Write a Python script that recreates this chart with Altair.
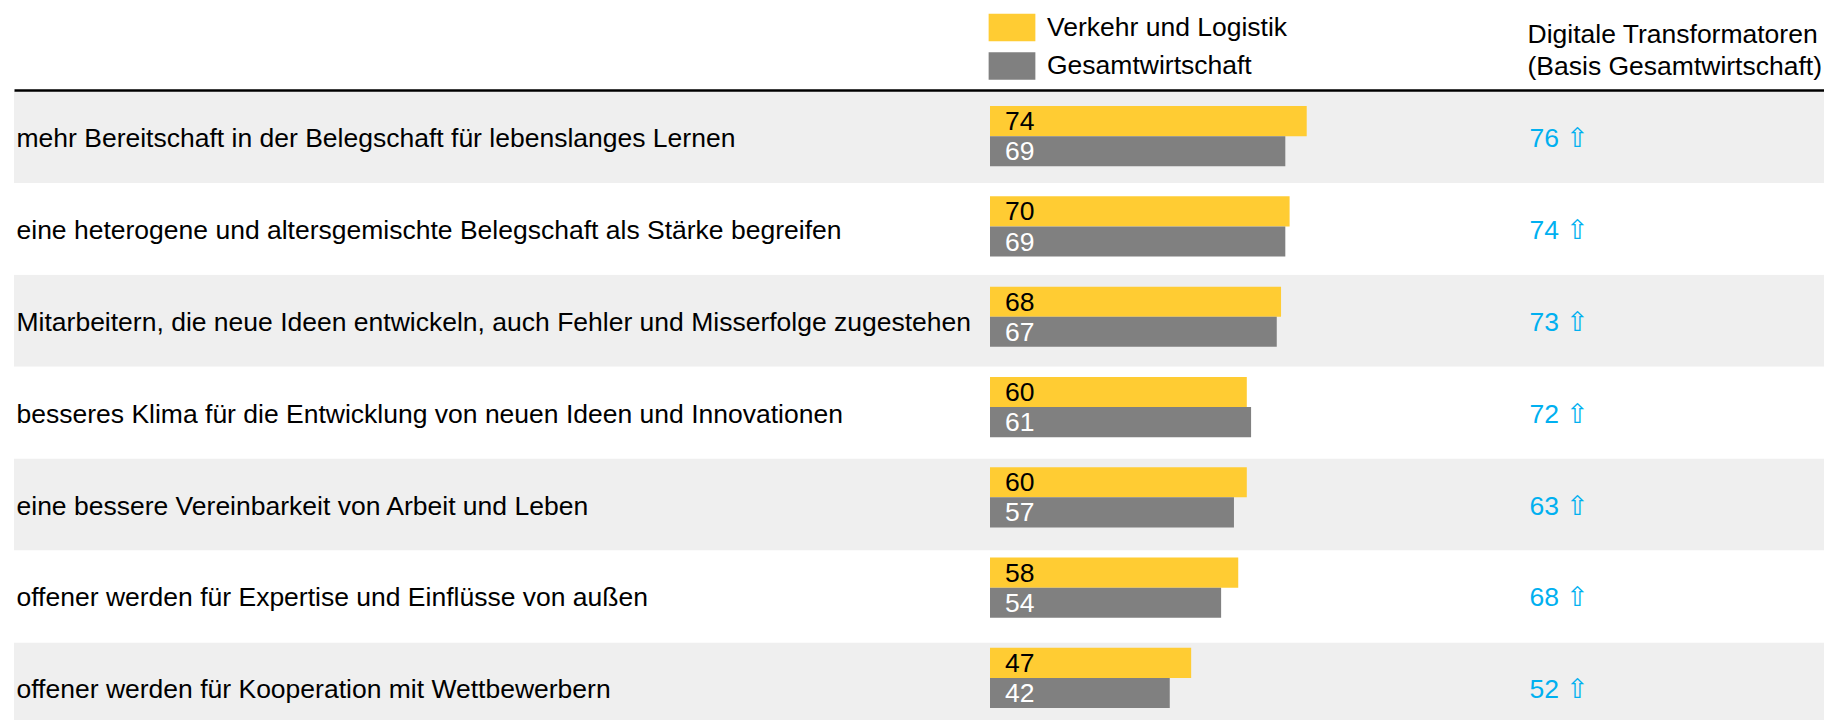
import json
import altair as alt
import pandas as pd

labels = [
    "mehr Bereitschaft in der Belegschaft für lebenslanges Lernen",
    "eine heterogene und altersgemischte Belegschaft als Stärke begreifen",
    "Mitarbeitern, die neue Ideen entwickeln, auch Fehler und Misserfolge zugestehen",
    "besseres Klima für die Entwicklung von neuen Ideen und Innovationen",
    "eine bessere Vereinbarkeit von Arbeit und Leben",
    "offener werden für Expertise und Einflüsse von außen",
    "offener werden für Kooperation mit Wettbewerbern",
]
verkehr = [74, 70, 68, 60, 60, 58, 47]
gesamt = [69, 69, 67, 61, 57, 54, 42]
digital = [76, 74, 73, 72, 63, 68, 52]
series_names = ["Verkehr und Logistik", "Gesamtwirtschaft"]
header = ["Digitale Transformatoren", "(Basis Gesamtwirtschaft)"]
arrow = "⇧"

rows = pd.DataFrame({"label": labels, "idx": list(range(len(labels)))})
bars = pd.DataFrame({
    "label": labels * 2,
    "series": [series_names[0]] * len(labels) + [series_names[1]] * len(labels),
    "value": verkehr + gesamt,
})

FONT = "Liberation Sans"
FS = 26.5
W, H = 1810, 630
PX_PER_UNIT = 4.28
BAR_ORIGIN = 976
band_range = [1, 1 + 7 * 91.9]
bar_range = [1, 1 + 7 * 90.3]

x_scale = alt.Scale(domain=[-BAR_ORIGIN / PX_PER_UNIT, (W - BAR_ORIGIN) / PX_PER_UNIT], nice=False, zero=False)
top_axis = alt.Axis(orient="top", domain=True, domainColor="black", domainWidth=2.5, domainOpacity=1,
                    ticks=False, labels=False, grid=False, title=None, zindex=2, offset=0)

value_map = {l: f"{d} {arrow}" for l, d in zip(labels, digital)}
label_expr = json.dumps(value_map, ensure_ascii=False) + "[datum.value]"

band_scale = alt.Scale(domain=labels, range=band_range, paddingInner=0, paddingOuter=0)
bar_scale = alt.Scale(domain=labels, range=bar_range, paddingInner=0, paddingOuter=0)
off_scale = alt.Scale(domain=series_names, paddingInner=0, paddingOuter=0.5)
off_text_scale = alt.Scale(domain=series_names, type="point", padding=1)

gray_bands = alt.Chart(rows).transform_filter("datum.idx % 2 == 0").mark_rect(color="#EFEFEF").encode(
    y=alt.Y("label:N", scale=band_scale,
            axis=alt.Axis(orient="left", domain=False, ticks=False, grid=False,
                          labelAlign="left", labelBaseline="middle", labelPadding=-2,
                          labelOffset=2, labelLimit=1200, labelFont=FONT, labelFontSize=FS,
                          labelColor="black", title=None))
)

white_bands = alt.Chart(rows).transform_filter("datum.idx % 2 == 1").mark_rect(color="#FFFFFF").encode(
    y=alt.Y("label:N", scale=band_scale,
            axis=alt.Axis(orient="right", domain=False, ticks=False, grid=False,
                          labelAlign="left", labelBaseline="middle", labelPadding=-295,
                          labelOffset=2, labelLimit=400, labelFont=FONT, labelFontSize=FS,
                          labelColor="#00B0F0", labelExpr=label_expr,
                          title=header, titleAngle=0, titleAlign="left", titleBaseline="top",
                          titleX=-297, titleY=-68.2, titleFont=FONT, titleFontSize=FS,
                          titleFontWeight="normal", titleColor="black", titleLineHeight=31.7))
)

bar_layer = alt.Chart(bars).mark_bar().encode(
    x=alt.X("value:Q", scale=x_scale, axis=top_axis),
    y=alt.Y("label:N", scale=bar_scale, axis=None),
    yOffset=alt.YOffset("series:N", scale=off_scale),
    color=alt.Color("series:N", scale=alt.Scale(domain=series_names, range=["#FFCC33", "#808080"]),
                    legend=alt.Legend(orient="none", legendX=984, legendY=-76.5, direction="vertical",
                                      title=None, symbolType="M-1.7,-1H1.7V1H-1.7Z", symbolSize=756,
                                      symbolStrokeWidth=0, symbolOpacity=1, labelFont=FONT,
                                      labelFontSize=FS, labelColor="black", labelOffset=21,
                                      rowPadding=10.5, padding=0, labelLimit=400)),
)

text_layer = alt.Chart(bars).mark_text(align="left", baseline="middle", dx=15, dy=1,
                                       font=FONT, fontSize=FS).encode(
    x=alt.XDatum(0, scale=x_scale, axis=top_axis),
    y=alt.Y("label:N", scale=bar_scale, axis=None),
    yOffset=alt.YOffset("series:N", scale=off_text_scale),
    text=alt.Text("value:Q"),
    color=alt.condition(alt.datum.series == series_names[0], alt.value("black"), alt.value("white")),
)

chart = alt.layer(gray_bands, white_bands, bar_layer, text_layer).resolve_scale(
    y="independent", yOffset="independent"
).properties(
    width=W, height=H,
    autosize=alt.AutoSizeParams(type="none"),
    padding={"left": 6, "top": 82, "right": 0, "bottom": 0},
    background="white",
).configure(font=FONT).configure_view(stroke=None)

chart.save("out.html", embed_options={"renderer": "svg", "actions": False})
